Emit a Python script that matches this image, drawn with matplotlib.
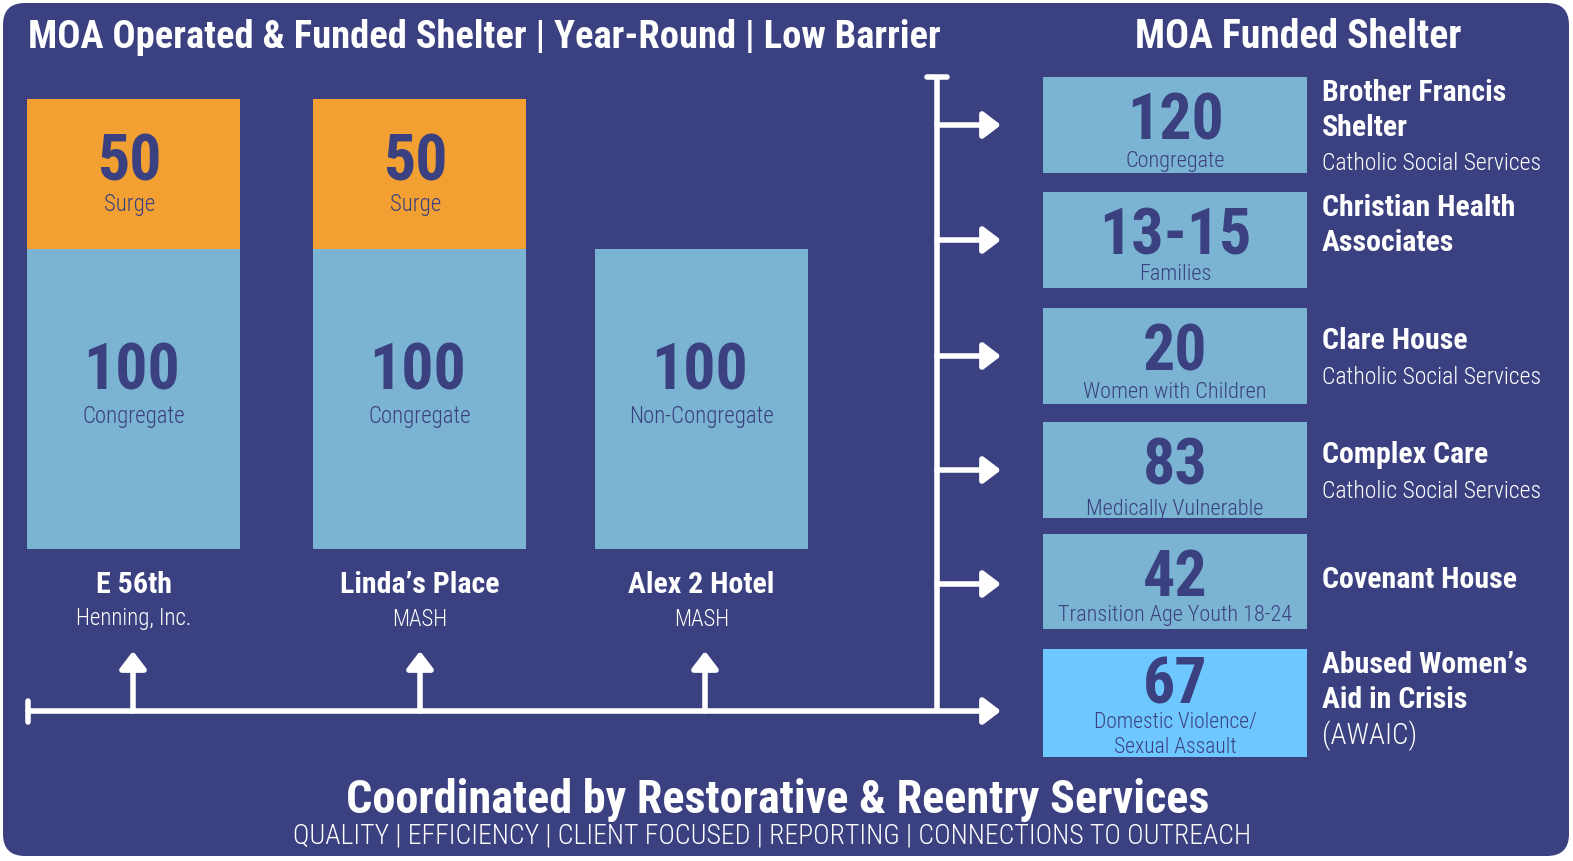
import matplotlib
matplotlib.use("Agg")
import matplotlib.pyplot as plt
from matplotlib import font_manager
from matplotlib.patches import FancyBboxPatch, Rectangle

# ---------------- data ----------------
bar_names = ["E 56th", "Linda\u2019s Place", "Alex 2 Hotel"]
bar_orgs = ["Henning, Inc.", "MASH", "MASH"]
base_values = [100, 100, 100]
base_labels = ["Congregate", "Congregate", "Non-Congregate"]
surge_values = [50, 50, 0]
surge_labels = ["Surge", "Surge", ""]

funded_values = ["120", "13-15", "20", "83", "42", "67"]
funded_types = ["Congregate", "Families", "Women with Children", "Medically Vulnerable",
                "Transition Age Youth 18-24", "Domestic Violence/\nSexual Assault"]
funded_names = ["Brother Francis\nShelter", "Christian Health\nAssociates", "Clare House",
                "Complex Care", "Covenant House", "Abused Women\u2019s\nAid in Crisis"]
funded_orgs = ["Catholic Social Services", "", "Catholic Social Services",
               "Catholic Social Services", "", "(AWAIC)"]

title_left = "MOA Operated & Funded Shelter | Year-Round | Low Barrier"
title_right = "MOA Funded Shelter"
footer_title = "Coordinated by Restorative & Reentry Services"
footer_sub = "QUALITY | EFFICIENCY | CLIENT FOCUSED | REPORTING | CONNECTIONS TO OUTREACH"

# ---------------- style ----------------
NAVY = "#3B4080"
LIGHT = "#7BB4D2"
ORANGE = "#F2A032"
BRIGHT = "#6EC8FF"
WHITE = "white"

names = {f.name for f in font_manager.fontManager.ttflist}
FONT = "DejaVu Sans"
for cand in ["Roboto Condensed", "Liberation Sans Narrow", "Open Sans Condensed", "Roboto"]:
    if cand in names:
        FONT = cand
        break
plt.rcParams["font.family"] = [FONT, "DejaVu Sans"]
LIGHTW = "light"

W, H = 1573, 861
fig = plt.figure(figsize=(W / 100, H / 100), dpi=100)
fig.patch.set_facecolor("white")
ax = fig.add_axes([0, 0, 1, 1])
ax.set_xlim(0, W)
ax.set_ylim(H, 0)
ax.axis("off")

# background panel
ax.add_patch(FancyBboxPatch((3, 3), W - 7, H - 8, boxstyle="round,pad=0,rounding_size=22",
                            fc=NAVY, ec="none", zorder=0))

# ---------------- left stacked bars ----------------
bar_bottom_px, px_per_unit = 549, 3.0
span_units = 150
axb = fig.add_axes([0, (H - bar_bottom_px) / H, 1, span_units * px_per_unit / H])
axb.set_xlim(0, W)
axb.set_ylim(0, span_units)
axb.axis("off")
axb.patch.set_alpha(0)
centers = [133.5, 419.5, 701.5]
axb.bar(centers, base_values, width=213, color=LIGHT, zorder=2)
axb.bar(centers, surge_values, bottom=base_values, width=213, color=ORANGE, zorder=2)

# overlay axes for text and connectors
axt = fig.add_axes([0, 0, 1, 1])
axt.set_xlim(0, W)
axt.set_ylim(H, 0)
axt.axis("off")
axt.patch.set_alpha(0)

# titles
axt.text(28, 37, title_left, color=WHITE, fontsize=27.7, fontweight="bold", ha="left", va="center")
axt.text(1298, 37, title_right, color=WHITE, fontsize=28.5, fontweight="bold", ha="center", va="center")

for i, c in enumerate(centers):
    bv, sv = base_values[i], surge_values[i]
    y_num = bar_bottom_px - bv * px_per_unit + 123
    axt.text(c - 2, y_num, str(bv), color=NAVY, fontsize=46, fontweight="bold", ha="center", va="center")
    axt.text(c, y_num + 45, base_labels[i], color=NAVY, fontsize=16.5, fontweight=LIGHTW,
             ha="center", va="center")
    if sv:
        top = bar_bottom_px - (bv + sv) * px_per_unit
        axt.text(c - 4, top + 64, str(sv), color=NAVY, fontsize=46, fontweight="bold", ha="center", va="center")
        axt.text(c - 4, top + 105, surge_labels[i], color=NAVY, fontsize=16.5, fontweight=LIGHTW,
                 ha="center", va="center")
    axt.text(c, 585, bar_names[i], color=WHITE, fontsize=21.5, fontweight="bold", ha="center", va="center")
    axt.text(c, 619, bar_orgs[i], color=WHITE, fontsize=16.5, fontweight=LIGHTW, ha="center", va="center")

# ---------------- right boxes ----------------
box_x0, box_w = 1043, 264
box_tops = [77, 192, 308, 422, 534, 649]
box_hs = [96, 96, 96, 96, 95, 108]
sub_offsets = [84, 83, 84, 87, 82]
arrow_ys = [125, 240, 356, 470, 584]
for i, val in enumerate(funded_values):
    top, hgt = box_tops[i], box_hs[i]
    col = BRIGHT if i == len(funded_values) - 1 else LIGHT
    ax.add_patch(Rectangle((box_x0, top), box_w, hgt, fc=col, ec="none", zorder=2))
    cx = box_x0 + box_w / 2
    if i == len(funded_values) - 1:
        axt.text(cx, top + 37, val, color=NAVY, fontsize=46, fontweight="bold", ha="center", va="center")
        axt.text(cx, top + 86, funded_types[i], color=NAVY, fontsize=15.5, fontweight=LIGHTW,
                 ha="center", va="center", linespacing=1.3)
    else:
        axt.text(cx, top + 45, val, color=NAVY, fontsize=46, fontweight="bold", ha="center", va="center")
        axt.text(cx, top + sub_offsets[i], funded_types[i], color=NAVY, fontsize=16, fontweight=LIGHTW,
                 ha="center", va="center")
    name_lines = funded_names[i].split("\n")
    y = top + 16
    if len(name_lines) == 1 and funded_orgs[i] == "":
        y = top + 46
    elif len(name_lines) == 1:
        y = top + 33
    for ln in name_lines:
        axt.text(1322, y, ln, color=WHITE, fontsize=21.5, fontweight="bold", ha="left", va="center")
        y += 35
    if funded_orgs[i]:
        fs = 21 if funded_orgs[i].startswith("(") else 17
        axt.text(1322, y + 1, funded_orgs[i], color=WHITE, fontsize=fs, fontweight=LIGHTW,
                 ha="left", va="center")

# ---------------- connector lines ----------------
LW = 4.0
line_y, vx = 711, 937
ap = dict(arrowstyle="-|>,head_length=0.55,head_width=0.42", lw=LW, color=WHITE,
          shrinkA=0, shrinkB=0, mutation_scale=19, capstyle="round", joinstyle="round")
axt.annotate("", xy=(1001, line_y), xytext=(28, line_y), arrowprops=ap, zorder=3)
axt.plot([28, 28], [701, 722], color=WHITE, lw=LW, solid_capstyle="round", zorder=3)
axt.plot([vx, vx], [line_y, 77], color=WHITE, lw=LW, solid_capstyle="butt", zorder=3)
axt.plot([927, 947], [77, 77], color=WHITE, lw=LW, solid_capstyle="round", zorder=3)
for ay in arrow_ys:
    axt.annotate("", xy=(1001, ay), xytext=(vx, ay), arrowprops=ap, zorder=3)
for c in [133, 420, 705]:
    axt.annotate("", xy=(c, 651), xytext=(c, line_y), arrowprops=ap, zorder=3)

# ---------------- footer ----------------
axt.text(778, 800, footer_title, color=WHITE, fontsize=33.3, fontweight="bold", ha="center", va="center")
axt.text(772, 836, footer_sub, color=WHITE, fontsize=20, fontweight=LIGHTW, ha="center", va="center")

fig.savefig("out.png", dpi=100, facecolor="white")
